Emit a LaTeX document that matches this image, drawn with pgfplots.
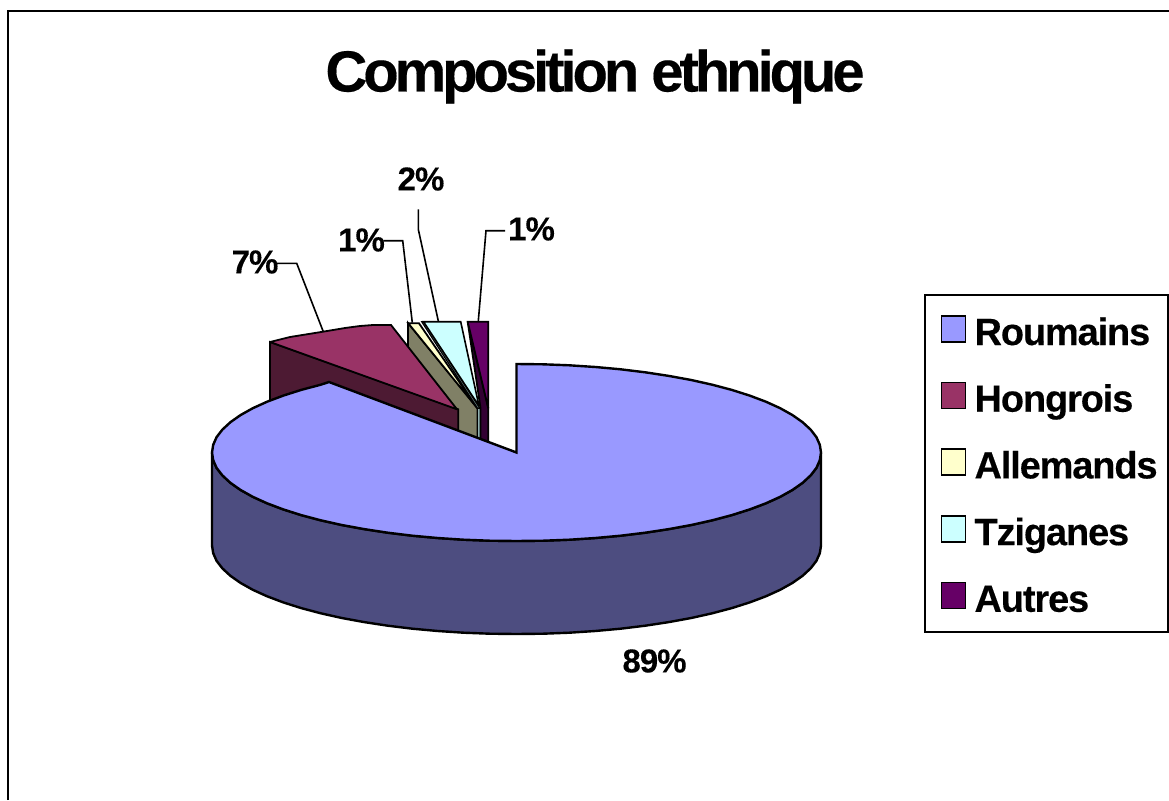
\documentclass[border=0pt]{standalone}
\usepackage{fontspec}
\setmainfont{Liberation Sans}
\newfontfamily\titlef{Liberation Sans}[LetterSpace=-7,BoldFeatures={FakeBold=0.3}]
\newfontfamily\legf{Liberation Sans}[LetterSpace=-3.0,BoldFeatures={FakeBold=0.3}]
\newfontfamily\labf{Liberation Sans}[LetterSpace=-3,BoldFeatures={FakeBold=0.3}]
\usepackage{pgfplots}
\pgfplotsset{compat=1.18}
\definecolor{roum}{HTML}{9999FF}
\definecolor{roumD}{HTML}{4D4D80}
\definecolor{hong}{HTML}{993366}
\definecolor{hongD}{HTML}{4D1A33}
\definecolor{alle}{HTML}{FFFFCC}
\definecolor{alleD}{HTML}{808066}
\definecolor{tzig}{HTML}{CCFFFF}
\definecolor{tzigD}{HTML}{668080}
\definecolor{tzigL}{HTML}{8FB0B0}
\definecolor{autr}{HTML}{660066}
\definecolor{autrD}{HTML}{330033}
\begin{document}
\begin{tikzpicture}
\path[use as bounding box] (0,0) rectangle (1169pt,800pt);
\begin{axis}[
  at={(0pt,0pt)}, anchor=south west,
  scale only axis, width=1169pt, height=800pt,
  xmin=0, xmax=1169, ymin=0, ymax=800, y dir=reverse,
  hide axis, clip=false,
  title={\titlef\bfseries Composition ethnique},
  title style={at={(595/1169,1-97.5/800)}, anchor=base, font=\fontsize{58}{62}\selectfont, inner sep=0pt},
  legend style={
    at={(axis cs:923.5,293.5)}, anchor=north west,
    draw=black, line width=2pt, fill=white,
    font=\fontsize{38}{42}\selectfont\legf\bfseries,
    legend cell align=left, row sep=23.2pt, inner xsep=9pt, inner ysep=13.5pt,
    nodes={inner sep=1pt, text height=36pt, text depth=5.5pt},
  },
  legend image code/.code={
    \path[draw=none, fill=none] (0pt,0pt) -- (40pt,0pt);
    \draw[#1, line width=1.8pt] (8pt,-12pt) rectangle (32pt,14pt);
  },
]
% legend images, in legend order
\addlegendimage{fill=roum, draw=black}
\addlegendentry{Roumains}
\addlegendimage{fill=hong, draw=black}
\addlegendentry{Hongrois}
\addlegendimage{fill=alle, draw=black}
\addlegendentry{Allemands}
\addlegendimage{fill=tzig, draw=black}
\addlegendentry{Tziganes}
\addlegendimage{fill=autr, draw=black}
\addlegendentry{Autres}

% outer frame
\addplot[forget plot, black, line width=2pt] coordinates {(8,800) (8,11) (1169,11)};

\pgfplotsset{every axis plot/.append style={forget plot, draw=black, line width=1.8pt, line join=miter, miter limit=3}}

% Allemands side face
\addplot[fill=alleD] coordinates {(408,323) (477.5,408) (477.5,440) (440,440) (408,400)} -- cycle;
% Hongrois
\addplot[fill=hongD] coordinates {(270,342) (458.3,409.3) (458.3,440) (270,440)} -- cycle;
\addplot[fill=hong] coordinates {(270,342) (290,337) (323,331.7) (345,328) (360,326) (373,325) (391,325) (457,409.3)} -- cycle;
% Allemands top
\addplot[fill=alle] coordinates {(408.3,323.3) (419,323.3) (477.3,408.3)} -- cycle;
% Tziganes
\addplot[fill=tzigL, line width=1.2pt] coordinates {(477.5,405) (480.5,405) (480.5,440) (477.5,440)} -- cycle;
\addplot[fill=tzigD, line width=1.2pt] coordinates {(421.7,321.7) (424,321.7) (480,408.3) (477.5,408.3)} -- cycle;
\addplot[fill=tzig, line width=1.6pt] coordinates {(423.5,321.7) (460.7,321.7) (479,406)} -- cycle;
% Autres
\addplot[fill=autrD] coordinates {(467.7,321.7) (488.3,408) (488.3,442) (480.5,442) (480.5,408)} -- cycle;
\addplot[fill=autr] coordinates {(467.7,321.7) (488.3,321.7) (488.3,408.3)} -- cycle;

% Roumains front wall
\addplot[fill=roumD, line width=2.4pt] coordinates {
(212.0,452.5) (213.2,460.2) (216.6,467.9) (222.4,475.4) (230.4,482.8) (240.5,489.9)
(252.8,496.8) (267.1,503.3) (283.3,509.4) (301.2,515.1) (320.8,520.3) (341.8,525.0)
(364.2,529.1) (387.8,532.7) (412.4,535.7) (437.7,538.0) (463.6,539.7) (489.9,540.7)
(516.5,541.0) (543.1,540.7) (569.4,539.7) (595.3,538.0) (620.6,535.7) (645.2,532.7)
(668.8,529.1) (691.2,525.0) (712.2,520.3) (731.8,515.1) (749.7,509.4) (765.9,503.3)
(780.2,496.8) (792.5,489.9) (802.6,482.8) (810.6,475.4) (816.4,467.9) (819.8,460.2)
(821.0,452.5)
(821.0,545.5) (819.8,553.2) (816.4,560.9) (810.6,568.4) (802.6,575.8) (792.5,582.9)
(780.2,589.8) (765.9,596.3) (749.7,602.4) (731.8,608.1) (712.2,613.3) (691.2,618.0)
(668.8,622.1) (645.2,625.7) (620.6,628.7) (595.3,631.0) (569.4,632.7) (543.1,633.7)
(516.5,634.0) (489.9,633.7) (463.6,632.7) (437.7,631.0) (412.4,628.7) (387.8,625.7)
(364.2,622.1) (341.8,618.0) (320.8,613.3) (301.2,608.1) (283.3,602.4) (267.1,596.3)
(252.8,589.8) (240.5,582.9) (230.4,575.8) (222.4,568.4) (216.6,560.9) (213.2,553.2)
(212.0,545.5)
} -- cycle;
% Roumains top
\addplot[fill=roum, line width=2.4pt] coordinates {
(516.5,364.0) (543.1,364.3) (569.4,365.3) (595.3,367.0) (620.6,369.3) (645.2,372.3)
(668.8,375.9) (691.2,380.0) (712.2,384.7) (731.8,389.9) (749.7,395.6) (765.9,401.7)
(780.2,408.2) (792.5,415.1) (802.6,422.2) (810.6,429.6) (816.4,437.1) (819.8,444.8)
(821.0,452.5) (819.8,460.2) (816.4,467.9) (810.6,475.4) (802.6,482.8) (792.5,489.9)
(780.2,496.8) (765.9,503.3) (749.7,509.4) (731.8,515.1) (712.2,520.3) (691.2,525.0)
(668.8,529.1) (645.2,532.7) (620.6,535.7) (595.3,538.0) (569.4,539.7) (543.1,540.7)
(516.5,541.0) (489.9,540.7) (463.6,539.7) (437.7,538.0) (412.4,535.7) (387.8,532.7)
(364.2,529.1) (341.8,525.0) (320.8,520.3) (301.2,515.1) (283.3,509.4) (267.1,503.3)
(252.8,496.8) (240.5,489.9) (230.4,482.8) (222.4,475.4) (216.6,467.9) (213.2,460.2)
(212.0,452.5) (213.2,444.8) (216.6,437.1) (222.4,429.6) (230.4,422.2) (240.5,415.1)
(252.8,408.2) (267.1,401.7) (283.3,395.6) (301.2,389.9) (320.8,384.7) (329.0,382.0)
(516.5,452.5)
} -- cycle;

% leader lines
\addplot[line width=1.6pt] coordinates {(277,263.3) (296.7,263.3) (323.3,331.7)};
\addplot[line width=1.6pt] coordinates {(383.3,240.7) (402.7,240.7) (412.3,322.7)};
\addplot[line width=1.6pt] coordinates {(418.3,209.3) (418.3,229.3) (438.3,321)};
\addplot[line width=1.6pt] coordinates {(505,230.7) (486,230.7) (478.3,321)};

% data labels
\begin{scope}[every node/.style={font=\fontsize{33}{36}\selectfont\labf\bfseries, inner sep=0pt}]
\node at (axis cs:255,262) {7\%};
\node at (axis cs:361.5,240) {1\%};
\node at (axis cs:421,179) {2\%};
\node at (axis cs:531.5,229) {1\%};
\node at (axis cs:654.5,661) {89\%};
\end{scope}
\end{axis}
\end{tikzpicture}
\end{document}
